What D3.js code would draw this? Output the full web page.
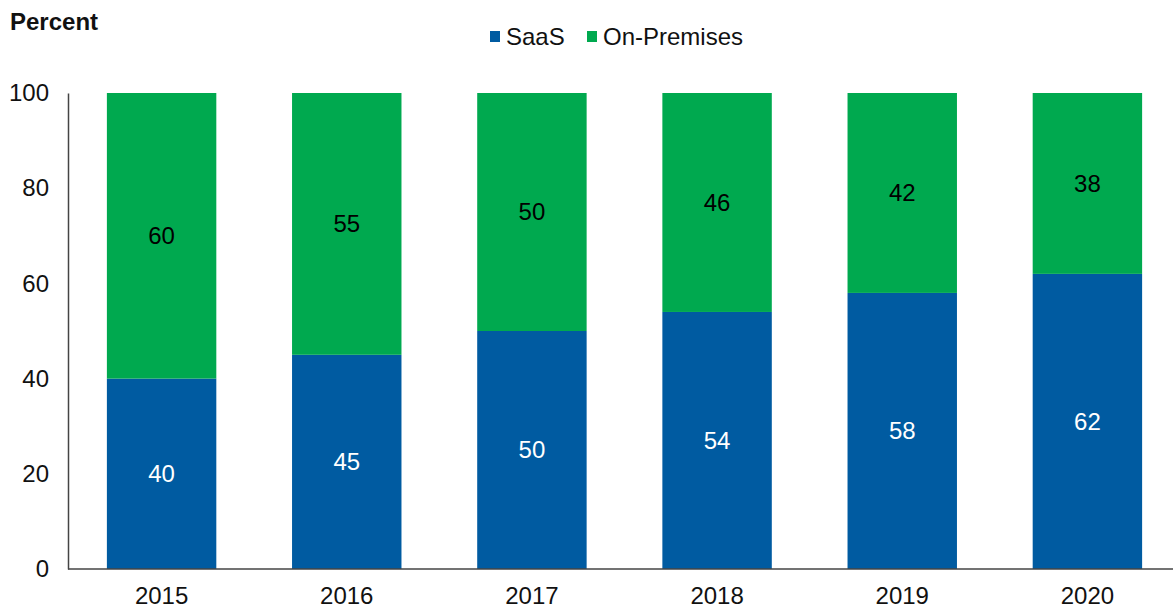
<!DOCTYPE html>
<html>
<head>
<meta charset="utf-8">
<script src="https://cdn.jsdelivr.net/npm/d3@7"></script>
<style>
  body { margin: 0; background: #fff; }
  svg text { font-family: 'Liberation Sans', Arial, sans-serif; }
</style>
</head>
<body>
<div id="chart"><svg></svg></div>
<script>
const years = ['2015', '2016', '2017', '2018', '2019', '2020']
const saas = [40, 45, 50, 54, 58, 62]
const onPremises = [60, 55, 50, 46, 42, 38]
const yTicks = [0, 20, 40, 60, 80, 100]

const width = 1173
const height = 609

const svg = d3.select('#chart').select('svg')
  .attr('width', width)
  .attr('height', height)

const x = d3.scaleBand()
  .domain(years)
  .range([68, 1181])
  .paddingInner(0.409)
  .paddingOuter(0.21)

const y = d3.scaleLinear()
  .domain([0, 100])
  .range([569, 93])

const rows = years.map((yr, i) => ({ year: yr, saas: saas[i], onPremises: onPremises[i] }))
const stack = d3.stack().keys(['saas', 'onPremises'])(rows)
const colors = { saas: '#005ba1', onPremises: '#00a94f' }
const textColors = { saas: '#ffffff', onPremises: '#000000' }

// bars
const layers = svg.append('g')
  .selectAll('g')
  .data(stack)
  .enter()
  .append('g')
  .attr('fill', (d) => colors[d.key])

layers.selectAll('rect')
  .data((d) => d)
  .enter()
  .append('rect')
  .attr('x', (d) => x(d.data.year))
  .attr('y', (d) => y(d[1]))
  .attr('width', x.bandwidth())
  .attr('height', (d) => y(d[0]) - y(d[1]))

// value labels
stack.forEach((layer) => {
  svg.append('g')
    .selectAll('text')
    .data(layer)
    .enter()
    .append('text')
    .attr('x', (d) => x(d.data.year) + x.bandwidth() / 2)
    .attr('y', (d) => y((d[0] + d[1]) / 2))
    .attr('dy', '0.35em')
    .attr('text-anchor', 'middle')
    .attr('font-size', 24)
    .attr('fill', textColors[layer.key])
    .text((d) => d[1] - d[0])
})

// y axis
const yAxis = svg.append('g')
  .attr('transform', 'translate(68,0)')
  .call(d3.axisLeft(y).tickValues(yTicks).tickSize(0).tickPadding(19))
yAxis.select('.domain').attr('stroke', '#444').attr('stroke-width', 1.5)
yAxis.selectAll('text').attr('font-size', 24).attr('fill', '#111')

// x axis
svg.append('line')
  .attr('x1', 68)
  .attr('x2', width)
  .attr('y1', y(0))
  .attr('y2', y(0))
  .attr('stroke', '#444')
  .attr('stroke-width', 1.5)

const xAxis = svg.append('g')
  .attr('transform', 'translate(0,' + y(0) + ')')
  .call(d3.axisBottom(x).tickSize(0).tickPadding(18))
xAxis.select('.domain').remove()
xAxis.selectAll('text').attr('font-size', 24).attr('fill', '#111')

// title
svg.append('text')
  .attr('x', 10)
  .attr('y', 30)
  .attr('font-size', 24)
  .attr('font-weight', 'bold')
  .attr('fill', '#111')
  .text('Percent')

// legend
const legendItems = [
  { key: 'saas', label: 'SaaS', x: 490 },
  { key: 'onPremises', label: 'On-Premises', x: 587 }
]
const legend = svg.append('g')
legendItems.forEach((item) => {
  legend.append('rect')
    .attr('x', item.x)
    .attr('y', 31)
    .attr('width', 10)
    .attr('height', 11)
    .attr('fill', colors[item.key])
  legend.append('text')
    .attr('x', item.x + 16)
    .attr('y', 45)
    .attr('font-size', 24)
    .attr('fill', '#111')
    .text(item.label)
})
</script>
</body>
</html>
